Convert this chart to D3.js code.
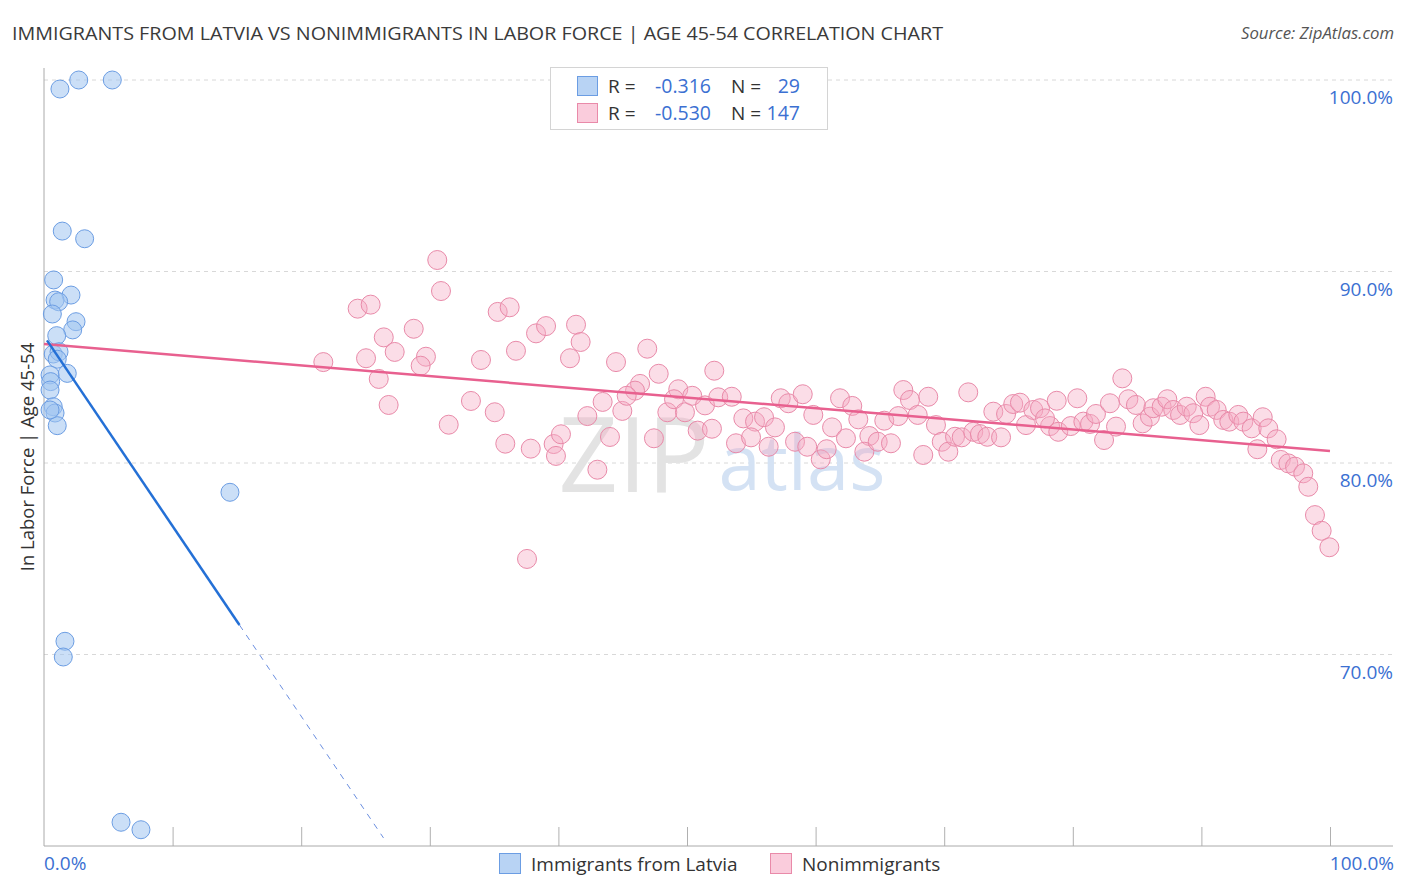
<!DOCTYPE html>
<html><head><meta charset="utf-8">
<script src="https://cdn.jsdelivr.net/npm/d3@7"></script>
<style>body{margin:0;background:#fff}svg{display:block}text{font-family:"Open Sans",Lato,sans-serif}</style>
</head><body><svg id="c" width="1406" height="892"></svg>
<script>
const blueX=[1.24,2.70,5.31,1.42,3.16,0.75,2.10,0.86,1.14,0.65,2.49,2.23,0.99,0.72,1.17,1.03,1.81,0.47,0.52,0.47,0.72,0.86,1.03,0.47,14.46,1.63,1.50,5.99,7.54];
const blueY=[99.53,100,100,92.11,91.71,89.56,88.77,88.51,88.42,87.78,87.38,86.95,86.65,85.69,85.81,85.42,84.68,84.60,84.25,83.81,82.94,82.61,81.95,82.77,78.47,70.69,69.87,61.24,60.85];
const pinkX=[30.58,30.87,24.39,25.40,35.28,36.21,26.42,28.75,38.26,39.04,41.37,41.73,27.27,25.04,29.70,29.29,21.72,33.98,36.70,40.90,26.03,26.80,44.48,46.91,47.80,52.12,31.47,33.20,35.05,35.87,37.85,39.63,40.20,39.81,43.03,42.25,43.44,44.01,44.97,46.35,45.96,45.31,47.43,48.47,49.32,48.99,49.84,50.41,51.40,50.83,51.94,52.43,37.56,
53.48,54.38,55.29,55.99,56.84,53.81,54.98,56.35,57.29,57.88,59.00,58.40,59.35,59.82,60.40,60.86,61.28,61.90,62.36,62.85,63.32,64.18,63.79,64.83,65.34,65.86,66.43,66.82,67.34,67.94,68.76,68.37,69.36,69.81,70.32,70.84,71.36,71.87,72.26,72.78,73.35,74.42,73.82,74.81,75.37,75.89,76.36,76.93,77.45,78.23,77.84,78.75,78.87,
80.35,79.84,80.82,81.34,81.80,82.43,83.36,82.89,83.85,84.32,84.91,85.43,86.00,86.26,86.91,87.35,87.81,88.34,88.86,89.37,89.84,90.33,90.67,91.19,91.70,92.17,92.87,93.26,93.91,94.35,94.77,95.20,95.85,96.17,96.76,97.28,97.92,98.31,98.83,99.35,99.95];
const pinkY=[90.60,88.98,88.06,88.27,87.89,88.13,86.56,87.01,86.77,87.15,87.22,86.32,85.80,85.47,85.55,85.08,85.27,85.38,85.86,85.47,84.39,83.03,85.27,85.97,84.66,84.82,82.00,83.24,82.65,81.01,80.75,80.99,81.50,80.37,79.65,82.45,83.19,81.36,82.72,84.13,83.78,83.51,81.29,82.65,83.85,83.33,82.65,83.51,83.01,81.69,81.79,83.43,74.99,
83.46,82.33,82.16,82.39,81.86,81.03,81.34,80.85,83.38,83.12,83.59,81.11,80.85,82.51,80.19,80.72,81.86,83.38,81.29,82.98,82.28,81.41,80.59,81.11,82.21,81.03,82.45,83.81,83.29,82.51,83.46,80.42,81.98,81.11,80.59,81.37,81.34,83.69,81.63,81.51,81.37,81.34,82.68,82.56,83.08,83.15,81.98,82.77,82.86,81.93,82.33,83.25,81.63,
83.38,81.93,82.16,82.04,82.56,81.20,81.90,83.12,84.42,83.33,83.03,82.07,82.42,82.86,82.94,83.33,82.77,82.51,82.94,82.60,81.98,83.46,82.94,82.77,82.25,82.16,82.51,82.16,81.81,80.72,82.39,81.81,81.24,80.16,79.98,79.81,79.46,78.76,77.28,76.46,75.60];
const yTicks=[100,90,80,70];
const xTicks=[0,10,20,30,40,50,60,70,80,90,100];
const blueTrend={x0:0,y0:86.63,x1:15.2,y1:71.54,xEnd:26.4};
const pinkTrend={x0:0,y0:86.21,x1:100,y1:80.63};
const legendRows=[{r:"-0.316",n:"29"},{r:"-0.530",n:"147"}];
const seriesNames=["Immigrants from Latvia","Nonimmigrants"];

const svg=d3.select("#c");
const L=44,R=1393,T=68,B=846;
const x=d3.scaleLinear().domain([0,100]).range([44,1330]);
const y=d3.scaleLinear().domain([60,100]).range([846,80]);
const blueFill="rgba(160,196,240,0.55)",blueStroke="#6b9de3";
const pinkFill="rgba(246,170,196,0.4)",pinkStroke="#e98aa9";
const valColor="#3b70d2";

svg.append("text").attr("x",12).attr("y",40).attr("font-size",18).attr("fill","#3a3a3a")
 .attr("textLength",931).attr("lengthAdjust","spacingAndGlyphs")
 .text("IMMIGRANTS FROM LATVIA VS NONIMMIGRANTS IN LABOR FORCE | AGE 45-54 CORRELATION CHART");
svg.append("text").attr("x",1394).attr("y",39).attr("text-anchor","end").attr("font-size",15.5).attr("font-style","italic").attr("fill","#555")
 .attr("textLength",153).attr("lengthAdjust","spacingAndGlyphs").text("Source: ZipAtlas.com");

// gridlines
svg.append("g").selectAll("line").data(yTicks).join("line")
 .attr("x1",L).attr("x2",R).attr("y1",d=>y(d)).attr("y2",d=>y(d))
 .attr("stroke","#d8d8d8").attr("stroke-dasharray","4,4");
svg.append("g").selectAll("text").data(yTicks).join("text")
 .attr("x",1393).attr("y",d=>y(d)+24).attr("text-anchor","end").attr("font-size",19).attr("fill",valColor)
 .text(d=>d.toFixed(1)+"%");

// watermark
svg.append("text").attr("x",634).attr("y",492).attr("text-anchor","middle").attr("font-family","'Liberation Serif',serif").attr("font-size",104).attr("fill","#e3e3e3").text("ZIP");
svg.append("text").attr("x",802).attr("y",490).attr("text-anchor","middle").attr("font-size",76).attr("fill","#d4e2f4").text("atlas");

// axes
const xa=svg.append("g").attr("transform",`translate(0,${B})`).call(d3.axisBottom(x).tickValues(xTicks.slice(1)).tickSize(-19).tickFormat(""));
xa.select(".domain").remove();
xa.selectAll("line").attr("stroke","#b0b0b0");
svg.append("line").attr("x1",L).attr("x2",R).attr("y1",B).attr("y2",B).attr("stroke","#aaa");
svg.append("line").attr("x1",L).attr("x2",L).attr("y1",T).attr("y2",B).attr("stroke","#aaa");
svg.append("text").attr("x",44).attr("y",870).attr("font-size",19).attr("fill",valColor).text("0.0%");
svg.append("text").attr("x",1394).attr("y",870).attr("text-anchor","end").attr("font-size",19).attr("fill",valColor).text("100.0%");
svg.append("text").attr("transform","translate(34,457) rotate(-90)").attr("text-anchor","middle").attr("font-size",18.5).attr("fill","#333").text("In Labor Force | Age 45-54");

// points
svg.append("g").selectAll("circle").data(pinkX.map((v,i)=>[v,pinkY[i]])).join("circle")
 .attr("cx",d=>x(d[0])).attr("cy",d=>y(d[1])).attr("r",9.5).attr("fill",pinkFill).attr("stroke",pinkStroke).attr("stroke-width",1);
svg.append("g").selectAll("circle").data(blueX.map((v,i)=>[v,blueY[i]])).join("circle")
 .attr("cx",d=>x(d[0])).attr("cy",d=>y(d[1])).attr("r",9).attr("fill",blueFill).attr("stroke",blueStroke).attr("stroke-width",1);

// trend lines
svg.append("line").attr("x1",x(pinkTrend.x0)).attr("y1",y(pinkTrend.y0)).attr("x2",x(pinkTrend.x1)).attr("y2",y(pinkTrend.y1)).attr("stroke","#e8608f").attr("stroke-width",2.5);
const bs=(blueTrend.y1-blueTrend.y0)/(blueTrend.x1-blueTrend.x0);
svg.append("line").attr("x1",x(blueTrend.x0)+3).attr("y1",y(blueTrend.y0+bs*0.23)).attr("x2",x(blueTrend.x1)).attr("y2",y(blueTrend.y1)).attr("stroke","#2470d6").attr("stroke-width",2.5);
svg.append("line").attr("x1",x(blueTrend.x1)).attr("y1",y(blueTrend.y1)).attr("x2",x(blueTrend.xEnd)).attr("y2",y(blueTrend.y0+bs*blueTrend.xEnd)).attr("stroke","#6b8fe0").attr("stroke-width",1).attr("stroke-dasharray","6,6");

// legend box
const lg=svg.append("g");
lg.append("rect").attr("x",550.5).attr("y",67.5).attr("width",277).attr("height",62).attr("fill","#fff").attr("stroke","#d4d4d4");
legendRows.forEach((row,i)=>{
  const yy=76+i*27;
  lg.append("rect").attr("x",577.5).attr("y",yy+0.5).attr("width",20).attr("height",19).attr("fill",i?"rgba(246,170,196,0.6)":"rgba(160,196,240,0.75)").attr("stroke",i?pinkStroke:blueStroke);
  lg.append("text").attr("x",608).attr("y",yy+17).attr("font-size",19).attr("fill","#333").text("R = ");
  lg.append("text").attr("x",711).attr("y",yy+17).attr("text-anchor","end").attr("font-size",19.5).attr("fill",valColor).text(row.r);
  lg.append("text").attr("x",731).attr("y",yy+17).attr("font-size",19).attr("fill","#333").text("N =");
  lg.append("text").attr("x",800).attr("y",yy+17).attr("text-anchor","end").attr("font-size",19.5).attr("fill",valColor).text(row.n);
});

// bottom legend
const bl=svg.append("g");
[[499,seriesNames[0],0],[770,seriesNames[1],1]].forEach(([xx,name,i])=>{
  bl.append("rect").attr("x",xx+0.5).attr("y",853.5).attr("width",21).attr("height",20).attr("fill",i?"rgba(246,170,196,0.6)":"rgba(160,196,240,0.75)").attr("stroke",i?pinkStroke:blueStroke);
  bl.append("text").attr("x",xx+32).attr("y",871).attr("font-size",19).attr("fill","#333").text(name);
});
</script></body></html>
